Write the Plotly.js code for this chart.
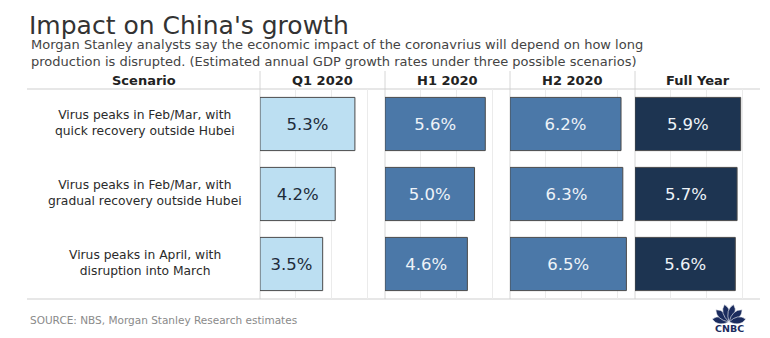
<!DOCTYPE html>
<html>
<head>
<meta charset="utf-8">
<script src="https://cdn.plot.ly/plotly-3.0.1.min.js"></script>
<style>html,body{margin:0;padding:0;background:#fff;}#chart{width:770px;height:338px;}</style>
</head>
<body>
<div id="chart"></div>
<script>
// ---- data ----
const scenarios = [
  "Virus peaks in Feb/Mar, with<br>quick recovery outside Hubei",
  "Virus peaks in Feb/Mar, with<br>gradual recovery outside Hubei",
  "Virus peaks in April, with<br>disruption into March"
];
const periods = ["Q1 2020", "H1 2020", "H2 2020", "Full Year"];
const q1 = [5.3, 4.2, 3.5];
const h1 = [5.6, 5.0, 4.6];
const h2 = [6.2, 6.3, 6.5];
const fullYear = [5.9, 5.7, 5.6];
const titleText = "Impact on China's growth";
const subtitleText = "Morgan Stanley analysts say the economic impact of the coronavrius will depend on how long<br>production is disrupted. (Estimated annual GDP growth rates under three possible scenarios)";
const sourceText = "SOURCE: NBS, Morgan Stanley Research estimates";

// ---- layout helpers ----
const W = 770, H = 338;
const px = x => x / W;
const py = y => 1 - y / H;
const FONT = "DejaVu Sans, Verdana, sans-serif";

const series = [q1, h1, h2, fullYear];
const colors = ["#bcdff2", "#4b78a8", "#4b78a8", "#1d3451"];
const textColors = ["#1e2b3a", "#eef3f8", "#eef3f8", "#eef3f8"];
const panels = [[260, 385], [385, 510], [510, 635], [635, 760]];
const axisMax = 6.98;

const traces = series.map((vals, i) => ({
  type: "bar",
  orientation: "h",
  x: vals,
  y: scenarios,
  xaxis: i === 0 ? "x" : "x" + (i + 1),
  yaxis: "y",
  marker: { color: colors[i], line: { color: "#4a4a4a", width: 1 } },
  text: vals.map(v => v.toFixed(1) + "%"),
  textposition: "inside",
  insidetextanchor: "middle",
  textangle: 0,
  textfont: { family: FONT, size: 16.5, color: textColors[i] },
  hoverinfo: "skip"
}));

const layout = {
  width: W, height: H,
  margin: { l: 0, r: 0, t: 0, b: 0 },
  paper_bgcolor: "#ffffff",
  plot_bgcolor: "#ffffff",
  showlegend: false,
  bargap: 0.24,
  font: { family: FONT, color: "#333" },
  title: {
    text: titleText,
    x: px(29), xanchor: "left",
    y: py(25), yanchor: "middle",
    font: { family: FONT, size: 25, color: "#333" }
  },
  yaxis: {
    domain: [py(299), py(89)],
    type: "category",
    range: [2.5, -0.5],
    showticklabels: false, showgrid: false, zeroline: false, showline: false,
    fixedrange: true
  },
  annotations: [],
  shapes: []
};

panels.forEach((p, i) => {
  const key = i === 0 ? "xaxis" : "xaxis" + (i + 1);
  layout[key] = {
    domain: [px(p[0]), px(p[1])],
    anchor: "y",
    range: [0, axisMax],
    tick0: 0, dtick: 2,
    showgrid: true, gridcolor: "#ebebeb", gridwidth: 1,
    showticklabels: false, zeroline: false, showline: false, ticks: "",
    fixedrange: true
  };
  // column header
  layout.annotations.push({
    xref: i === 0 ? "x" : "x" + (i + 1), yref: "paper",
    x: axisMax / 2, y: py(80), xanchor: "center", yanchor: "middle",
    text: "<b>" + periods[i] + "</b>", showarrow: false,
    font: { family: FONT, size: 13, color: "#222" }
  });
  // column separator
  layout.shapes.push({
    type: "line", xref: "paper", yref: "paper", layer: "below",
    x0: px(p[0]), x1: px(p[0]), y0: py(71), y1: py(299),
    line: { color: "#d6d6d6", width: 1 }
  });
});

// header / footer horizontal rules
[89, 299].forEach(yy => layout.shapes.push({
  type: "line", xref: "paper", yref: "paper", layer: "below",
  x0: px(27), x1: px(760), y0: py(yy), y1: py(yy),
  line: { color: "#cfcfcf", width: 1 }
}));

// Scenario header
layout.annotations.push({
  xref: "paper", yref: "paper", x: px(144), y: py(80),
  xanchor: "center", yanchor: "middle", showarrow: false,
  text: "<b>Scenario</b>", font: { family: FONT, size: 13, color: "#222" }
});

// scenario labels
scenarios.forEach((s, i) => layout.annotations.push({
  xref: "paper", yref: "y", x: px(145), y: i, yshift: 1,
  xanchor: "center", yanchor: "middle", align: "center", showarrow: false,
  text: s, font: { family: FONT, size: 12.3, color: "#2b2b2b" }
}));

// subtitle
layout.annotations.push({
  xref: "paper", yref: "paper", x: px(29), y: py(53),
  xanchor: "left", yanchor: "middle", align: "left", showarrow: false,
  text: subtitleText, font: { family: FONT, size: 13, color: "#444" }
});

// source
layout.annotations.push({
  xref: "paper", yref: "paper", x: px(28), y: py(320),
  xanchor: "left", yanchor: "middle", showarrow: false,
  text: sourceText, font: { family: FONT, size: 10.5, color: "#8a8a8a" }
});

// CNBC logo (feathers + wordmark)
const cx = 729, cy = 322;
const angles = [170, 137, 105, 75, 43, 10];
const lens = [17, 18, 18, 18, 18, 17];
angles.forEach((a, k) => {
  const r = a * Math.PI / 180;
  const dx = Math.cos(r), dy = -Math.sin(r);
  const L = lens[k], w = 4.4;
  const tx = cx + dx * L, ty = cy + dy * L;
  const mx = cx + dx * L * 0.62, my = cy + dy * L * 0.62;
  const nx = -dy, ny = dx;
  const p1x = mx + nx * w * 1.6, p1y = my + ny * w * 1.6;
  const p2x = mx - nx * w * 1.6, p2y = my - ny * w * 1.6;
  const path = `M${px(cx)},${py(cy)} Q${px(p1x)},${py(p1y)} ${px(tx)},${py(ty)} Q${px(p2x)},${py(p2y)} ${px(cx)},${py(cy)} Z`;
  layout.shapes.push({
    type: "path", xref: "paper", yref: "paper", path: path,
    fillcolor: "#1b2c5e", line: { color: "#ffffff", width: 0.6 }
  });
});
layout.annotations.push({
  xref: "paper", yref: "paper", x: px(729), y: py(328),
  xanchor: "center", yanchor: "middle", showarrow: false,
  text: "<b>CNBC</b>", font: { family: FONT, size: 9.5, color: "#1b2c5e" }
});

Plotly.newPlot("chart", traces, layout, { staticPlot: true, displayModeBar: false });
</script>
</body>
</html>
